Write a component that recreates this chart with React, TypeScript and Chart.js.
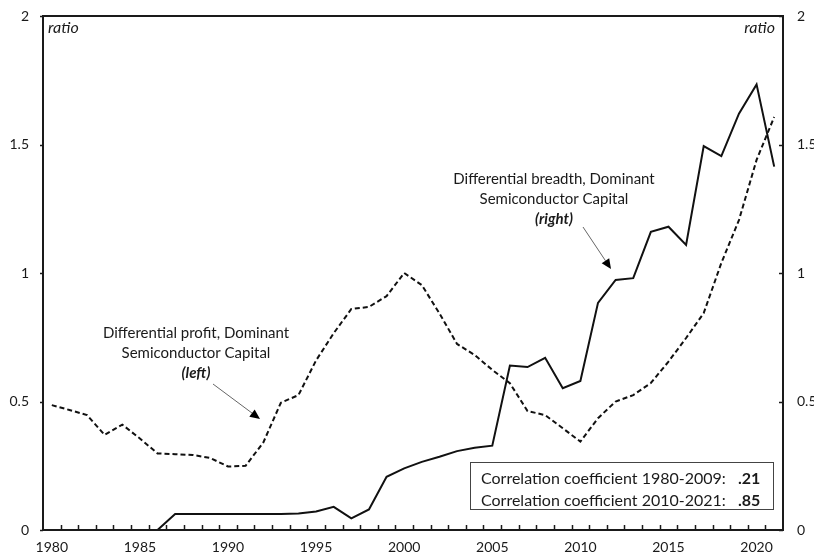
import { useEffect, useRef } from "react";
import { Chart, registerables } from "chart.js";

Chart.register(...registerables);

const years = [
  "1980", "1981", "1982", "1983", "1984", "1985", "1986", "1987", "1988", "1989",
  "1990", "1991", "1992", "1993", "1994", "1995", "1996", "1997", "1998", "1999",
  "2000", "2001", "2002", "2003", "2004", "2005", "2006", "2007", "2008", "2009",
  "2010", "2011", "2012", "2013", "2014", "2015", "2016", "2017", "2018", "2019",
  "2020", "2021",
];

// Differential profit, Dominant Semiconductor Capital (left axis, dashed)
const profitLeft = [
  0.486, 0.467, 0.447, 0.37, 0.41, 0.356, 0.298, 0.295, 0.292, 0.28,
  0.247, 0.25, 0.34, 0.495, 0.525, 0.66, 0.766, 0.86, 0.868, 0.91,
  1.0, 0.953, 0.843, 0.724, 0.681, 0.623, 0.571, 0.463, 0.447, 0.396,
  0.344, 0.435, 0.5, 0.525, 0.572, 0.655, 0.747, 0.844, 1.039, 1.206,
  1.44, 1.607,
];

// Differential breadth, Dominant Semiconductor Capital (right axis, solid)
const breadthRight = [
  0, 0, 0, 0, 0, 0, 0, 0.062, 0.062, 0.062,
  0.062, 0.062, 0.062, 0.062, 0.064, 0.072, 0.09, 0.045, 0.08, 0.207,
  0.24, 0.265, 0.285, 0.307, 0.32, 0.328, 0.64, 0.634, 0.67, 0.552,
  0.58, 0.884, 0.973, 0.98, 1.16, 1.18, 1.109, 1.494, 1.455, 1.62,
  1.734, 1.414,
];

const yTicks = [0, 0.5, 1, 1.5, 2];
const yTickLabels = ["0", "0.5", "1", "1.5", "2"];
const labeledYears = ["1980", "1985", "1990", "1995", "2000", "2005", "2010", "2015", "2020"];
const corrLabels = ["Correlation coefficient 1980-2009:", "Correlation coefficient 2010-2021:"];
const corrValues = [".21", ".85"];
const leftNote = ["Differential profit, Dominant", "Semiconductor Capital", "(left)"];
const rightNote = ["Differential breadth, Dominant", "Semiconductor Capital", "(right)"];

const FONT = "Lato, 'Open Sans', sans-serif";
const INK = "#1a1a1a";
const PLOT_TOP = 16;

function arrow(ctx: CanvasRenderingContext2D, x1: number, y1: number, x2: number, y2: number) {
  const ang = Math.atan2(y2 - y1, x2 - x1);
  const head = 10;
  const hw = 4.5;
  const bx = x2 - head * Math.cos(ang);
  const by = y2 - head * Math.sin(ang);
  ctx.strokeStyle = "#666";
  ctx.lineWidth = 1;
  ctx.beginPath();
  ctx.moveTo(x1, y1);
  ctx.lineTo(bx, by);
  ctx.stroke();
  ctx.fillStyle = "#000";
  ctx.beginPath();
  ctx.moveTo(x2, y2);
  ctx.lineTo(bx + hw * Math.sin(ang), by - hw * Math.cos(ang));
  ctx.lineTo(bx - hw * Math.sin(ang), by + hw * Math.cos(ang));
  ctx.closePath();
  ctx.fill();
}

// pin the plot area to the reference frame
const areaPlugin = {
  id: "area",
  afterLayout(chart: any) {
    const ca = chart.chartArea;
    const dy = ca.top - PLOT_TOP;
    if (Math.abs(dy) > 0.01) {
      ca.top = PLOT_TOP;
      ca.height = ca.bottom - ca.top;
      ["yL", "yR"].forEach((id) => {
        const s = chart.scales[id];
        s.top = PLOT_TOP;
        s.height = s.bottom - s.top;
        s.configure();
      });
    }
  },
};

const decorPlugin = {
  id: "decor",
  afterDraw(chart: any) {
    const ctx: CanvasRenderingContext2D = chart.ctx;
    const ca = chart.chartArea;
    const x = chart.scales.x;
    const yL = chart.scales.yL;
    const yR = chart.scales.yR;
    ctx.save();

    // frame
    ctx.strokeStyle = INK;
    ctx.lineWidth = 2;
    ctx.strokeRect(ca.left, ca.top, ca.right - ca.left, ca.bottom - ca.top);

    // x tick marks (between categories, pointing inward)
    ctx.lineWidth = 1.5;
    ctx.beginPath();
    for (let i = 0; i < years.length - 1; i++) {
      const px = Math.round((x.getPixelForValue(i) + x.getPixelForValue(i + 1)) / 2) + 0.5;
      ctx.moveTo(px, ca.bottom);
      ctx.lineTo(px, ca.bottom - 5);
    }
    // y tick marks
    yTicks.forEach((v) => {
      const pl = Math.round(yL.getPixelForValue(v)) + 0.5;
      ctx.moveTo(ca.left - 3, pl);
      ctx.lineTo(ca.left, pl);
      const pr = Math.round(yR.getPixelForValue(v)) + 0.5;
      ctx.moveTo(ca.right, pr);
      ctx.lineTo(ca.right - 4, pr);
    });
    ctx.stroke();

    // "ratio" labels
    ctx.fillStyle = INK;
    ctx.font = `italic 16px ${FONT}`;
    ctx.textBaseline = "middle";
    ctx.textAlign = "left";
    ctx.fillText("ratio", ca.left + 5, ca.top + 12);
    ctx.textAlign = "right";
    ctx.fillText("ratio", ca.right - 8, ca.top + 12);

    // annotations
    ctx.textAlign = "center";
    const note = (lines: string[], cx: number, cy: number) => {
      lines.forEach((t, i) => {
        ctx.font = i === 2 ? `italic bold 15px ${FONT}` : `15px ${FONT}`;
        ctx.fillStyle = INK;
        ctx.fillText(t, cx, cy + i * 20);
      });
    };
    note(leftNote, 196, 333);
    arrow(ctx, 213, 384, 260, 419);
    note(rightNote, 554, 179);
    arrow(ctx, 583, 227, 611, 269);

    // correlation box
    const bx = 470, by = 462, bw = 303, bh = 47;
    ctx.fillStyle = "#fff";
    ctx.fillRect(bx, by, bw, bh);
    ctx.strokeStyle = "#444";
    ctx.lineWidth = 1;
    ctx.strokeRect(bx + 0.5, by + 0.5, bw, bh);
    ctx.textAlign = "left";
    corrLabels.forEach((t, i) => {
      ctx.fillStyle = INK;
      ctx.font = `16px ${FONT}`;
      ctx.fillText(t, 481, 479 + i * 21.7);
      ctx.font = `bold 16px ${FONT}`;
      ctx.fillText(corrValues[i], 738, 479 + i * 21.7);
    });

    ctx.restore();
  },
};

export default function App() {
  const ref = useRef<HTMLCanvasElement | null>(null);

  useEffect(() => {
    if (!ref.current) return;
    const tickFont = { family: FONT, size: 14 };
    const yLabel = (v: any) => {
      const k = yTicks.indexOf(Number(v));
      return k >= 0 ? yTickLabels[k] : "";
    };
    const chart = new Chart(ref.current, {
      type: "line",
      data: {
        labels: years,
        datasets: [
          {
            label: "Differential profit, Dominant Semiconductor Capital (left)",
            data: profitLeft,
            yAxisID: "yL",
            borderColor: "#111",
            borderWidth: 2,
            borderDash: [5, 3],
            pointRadius: 0,
            tension: 0,
            fill: false,
          },
          {
            label: "Differential breadth, Dominant Semiconductor Capital (right)",
            data: breadthRight,
            yAxisID: "yR",
            borderColor: "#111",
            borderWidth: 2,
            pointRadius: 0,
            tension: 0,
            fill: false,
          },
        ],
      },
      options: {
        responsive: false,
        animation: false,
        devicePixelRatio: 1,
        layout: { padding: { top: 10, left: 0, right: 0, bottom: 0 } },
        plugins: {
          legend: { display: false },
          tooltip: { enabled: false },
          title: { display: false },
        },
        scales: {
          x: {
            type: "category",
            offset: true,
            grid: { display: false, drawTicks: false },
            border: { display: false },
            ticks: {
              autoSkip: false,
              maxRotation: 0,
              minRotation: 0,
              padding: 9,
              color: INK,
              font: tickFont,
              callback: (_v: any, i: number) => (labeledYears.includes(years[i]) ? years[i] : ""),
            },
            afterFit: (s: any) => {
              s.height = 24;
            },
          },
          yL: {
            type: "linear",
            position: "left",
            min: 0,
            max: 2,
            grid: { display: false, drawTicks: false },
            border: { display: false },
            ticks: {
              stepSize: 0.5,
              padding: 14,
              color: INK,
              font: tickFont,
              callback: yLabel,
            },
            afterFit: (s: any) => {
              s.width = 43;
            },
          },
          yR: {
            type: "linear",
            position: "right",
            min: 0,
            max: 2,
            grid: { display: false, drawTicks: false },
            border: { display: false },
            ticks: {
              stepSize: 0.5,
              padding: 14,
              color: INK,
              font: tickFont,
              callback: yLabel,
            },
            afterFit: (s: any) => {
              s.width = 31;
            },
          },
        },
      },
      plugins: [areaPlugin, decorPlugin],
    });
    return () => chart.destroy();
  }, []);

  return (
    <div style={{ position: "fixed", left: 0, top: 0, width: 814, height: 554, background: "#fff" }}>
      <canvas ref={ref} width={814} height={554} style={{ display: "block" }} />
    </div>
  );
}
